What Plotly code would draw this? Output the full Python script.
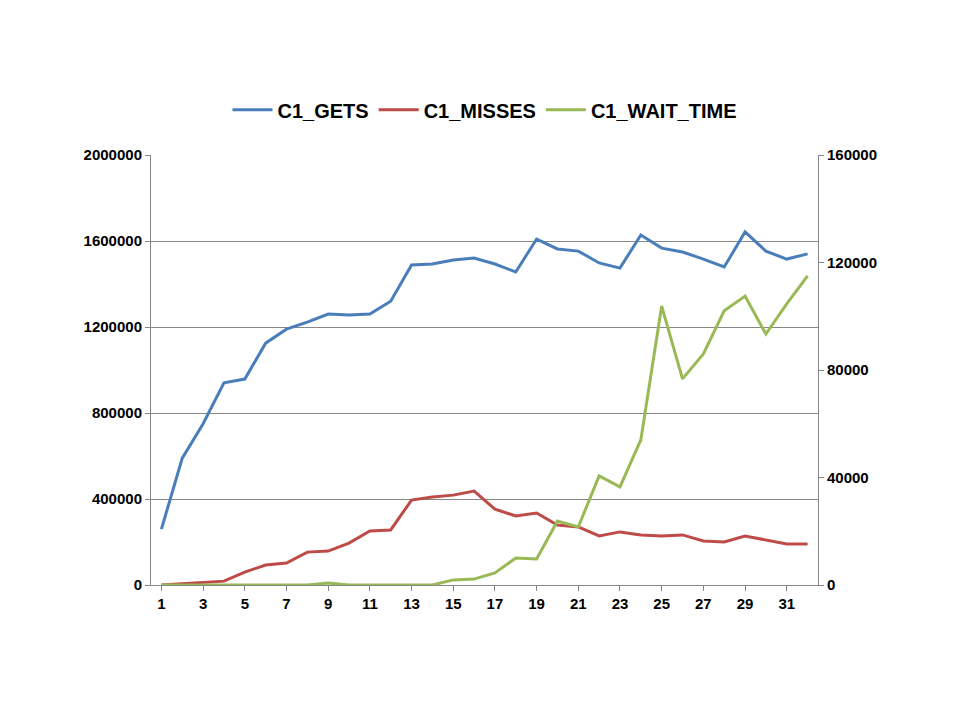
import plotly.graph_objects as go

x = list(range(1, 33))
gets = [260000,590000,750000,940000,958000,1125000,1190000,1223000,1260000,1256000,1260000,1320000,
        1488000,1493000,1512000,1521000,1493000,1456000,1609000,1563000,1553000,1498000,1474000,1628000,
        1567000,1549000,1516000,1479000,1642000,1553000,1516000,1540000]
misses = [0,5000,12000,18000,60000,93000,102000,153000,158000,195000,251000,256000,395000,409000,418000,
          437000,353000,321000,335000,279000,270000,228000,247000,233000,228000,233000,205000,200000,
          228000,209000,191000,191000]
wait = [0,0,0,0,0,0,0,0,700,0,0,0,0,0,1900,2200,4500,10000,9700,23800,21600,40600,36500,54000,
        103800,76700,86000,102000,107500,93400,104600,115000]

fig = go.Figure()
fig.add_trace(go.Scatter(x=x, y=gets, name="C1_GETS", mode="lines", line=dict(color="#4A7EBB", width=3)))
fig.add_trace(go.Scatter(x=x, y=misses, name="C1_MISSES", mode="lines", line=dict(color="#BE4B48", width=3)))
fig.add_trace(go.Scatter(x=x, y=wait, name="C1_WAIT_TIME", mode="lines", yaxis="y2", line=dict(color="#98B954", width=3)))

tf = dict(family="Liberation Sans, Arial", size=15, color="black", weight="bold")
fig.update_layout(
    width=960, height=720, plot_bgcolor="white", paper_bgcolor="white",
    margin=dict(l=143, r=150, t=147, b=143),
    font=dict(family="Liberation Sans, Arial", size=15, color="black"),
    legend=dict(orientation="h", x=0.5, xanchor="center", y=1.06, yanchor="bottom",
                font=dict(family="Liberation Sans, Arial", size=20, color="black", weight="bold"), itemwidth=40),
    xaxis=dict(range=[0.5, 32.5], tickmode="array", tickvals=list(range(1, 33, 2)),
               showgrid=False, showline=True, linecolor="#868686", ticks="outside", tickcolor="#868686",
               tickfont=tf),
    yaxis=dict(range=[0, 2000000], tickvals=[0,400000,800000,1200000,1600000,2000000],
               tickformat="d", showgrid=True, gridcolor="#868686", showline=True, linecolor="#868686",
               ticks="outside", tickcolor="#868686", zeroline=False, tickfont=tf),
    yaxis2=dict(range=[0, 160000], tickvals=[0,40000,80000,120000,160000], tickformat="d",
                overlaying="y", side="right", showgrid=False, showline=True, linecolor="#868686",
                ticks="outside", tickcolor="#868686", zeroline=False, tickfont=tf),
)
fig.write_html("out.html")
